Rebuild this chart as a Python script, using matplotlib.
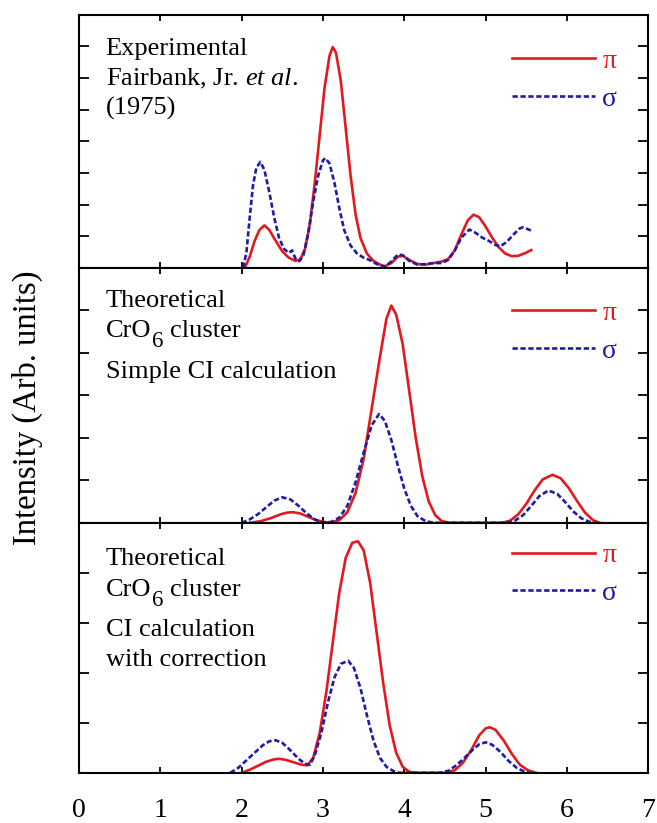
import matplotlib
matplotlib.use("Agg")
import matplotlib.pyplot as plt

plt.rcParams["font.family"] = ["Liberation Serif", "DejaVu Serif"]
plt.rcParams["mathtext.fontset"] = "custom"
plt.rcParams["mathtext.rm"] = "Liberation Serif"
plt.rcParams["mathtext.it"] = "Liberation Serif:italic"

RED = "#e3191e"
BLUE = "#1c1ca8"

# --- panel 1: experimental (Fairbank, Jr. et al. 1975) ---
exp_pi_x = [2.04, 2.10, 2.16, 2.22, 2.28, 2.34, 2.42, 2.50, 2.58, 2.66, 2.72, 2.78,
            2.84, 2.90, 2.96, 3.02, 3.08, 3.12, 3.16, 3.22, 3.28, 3.34, 3.40, 3.46,
            3.54, 3.62, 3.70, 3.76, 3.84, 3.92, 3.98, 4.06, 4.16, 4.26, 4.36, 4.46,
            4.54, 4.62, 4.70, 4.78, 4.85, 4.92, 5.00, 5.08, 5.16, 5.24, 5.32, 5.40,
            5.48, 5.56]
exp_pi_y = [0.0, 0.35, 0.85, 1.2, 1.34, 1.2, 0.85, 0.52, 0.32, 0.22, 0.26, 0.6,
            1.4, 2.7, 4.2, 5.7, 6.7, 6.98, 6.8, 5.9, 4.4, 2.9, 1.7, 0.95,
            0.45, 0.22, 0.1, 0.05, 0.15, 0.35, 0.38, 0.25, 0.12, 0.1, 0.15, 0.2,
            0.28, 0.55, 1.05, 1.5, 1.68, 1.6, 1.3, 0.95, 0.65, 0.45, 0.37, 0.38,
            0.46, 0.56]
exp_sig_x = [2.02, 2.06, 2.10, 2.14, 2.18, 2.23, 2.28, 2.34, 2.40, 2.46, 2.52, 2.58,
             2.62, 2.66, 2.71, 2.76, 2.82, 2.88, 2.94, 3.00, 3.03, 3.08, 3.14, 3.20,
             3.26, 3.34, 3.42, 3.50, 3.58, 3.66, 3.76, 3.84, 3.92, 3.98, 4.06, 4.16,
             4.26, 4.36, 4.46, 4.54, 4.62, 4.70, 4.80, 4.88, 4.96, 5.04, 5.12, 5.18,
             5.26, 5.34, 5.42, 5.46, 5.52, 5.57]
exp_sig_y = [0.0, 0.5, 1.6, 2.6, 3.15, 3.35, 3.1, 2.4, 1.6, 0.95, 0.6, 0.47,
             0.55, 0.3, 0.21, 0.4, 1.1, 2.1, 2.9, 3.4, 3.47, 3.3, 2.7, 1.9,
             1.2, 0.7, 0.45, 0.32, 0.24, 0.12, 0.03, 0.2, 0.42, 0.4, 0.22, 0.1,
             0.12, 0.15, 0.15, 0.25, 0.55, 0.95, 1.21, 1.1, 0.95, 0.85, 0.72, 0.68,
             0.82, 1.05, 1.25, 1.28, 1.22, 1.16]

# --- panel 2: simple CI calculation ---
sci_pi_x = [2.10, 2.24, 2.36, 2.48, 2.56, 2.63, 2.72, 2.82, 2.92, 3.02, 3.10, 3.20,
            3.30, 3.40, 3.50, 3.60, 3.70, 3.78, 3.84, 3.90, 3.98, 4.06, 4.14, 4.22,
            4.30, 4.38, 4.46, 4.56, 5.20, 5.30, 5.40, 5.50, 5.60, 5.70, 5.82, 5.92,
            6.02, 6.12, 6.22, 6.32, 6.40]
sci_pi_y = [0.0, 0.04, 0.11, 0.2, 0.24, 0.25, 0.22, 0.14, 0.06, 0.015, 0.01, 0.06,
            0.25, 0.7, 1.5, 2.7, 3.9, 4.8, 5.11, 4.9, 4.2, 3.1, 2.0, 1.1,
            0.5, 0.18, 0.04, 0.0, 0.0, 0.05, 0.2, 0.45, 0.76, 1.02, 1.13, 1.05,
            0.82, 0.52, 0.24, 0.06, 0.0]
sci_sig_x = [2.00, 2.10, 2.20, 2.30, 2.40, 2.50, 2.60, 2.70, 2.80, 2.90, 3.00, 3.10,
             3.20, 3.30, 3.40, 3.50, 3.60, 3.69, 3.76, 3.84, 3.92, 4.00, 4.08, 4.16,
             4.26, 4.36, 5.26, 5.36, 5.46, 5.56, 5.66, 5.77, 5.88, 5.98, 6.08, 6.18,
             6.28, 6.36]
sci_sig_y = [0.0, 0.08, 0.2, 0.36, 0.52, 0.6, 0.55, 0.4, 0.22, 0.08, 0.01, 0.02,
             0.12, 0.4, 0.95, 1.65, 2.3, 2.56, 2.4, 1.95, 1.35, 0.8, 0.4, 0.16,
             0.04, 0.0, 0.0, 0.05, 0.18, 0.4, 0.63, 0.76, 0.68, 0.48, 0.26, 0.1,
             0.02, 0.0]

# --- panel 3: CI calculation with correction ---
cor_pi_x = [2.00, 2.10, 2.20, 2.30, 2.40, 2.46, 2.54, 2.64, 2.74, 2.81, 2.88, 2.96,
            3.04, 3.12, 3.20, 3.28, 3.36, 3.43, 3.50, 3.58, 3.66, 3.74, 3.82, 3.90,
            3.98, 4.06, 4.14, 4.50, 4.62, 4.72, 4.82, 4.92, 5.00, 5.05, 5.12, 5.22,
            5.32, 5.42, 5.52, 5.62]
cor_pi_y = [0.0, 0.06, 0.14, 0.22, 0.27, 0.28, 0.26, 0.21, 0.16, 0.15, 0.3, 0.8,
            1.6, 2.6, 3.6, 4.3, 4.6, 4.63, 4.45, 3.8, 2.8, 1.8, 0.95, 0.4,
            0.12, 0.02, 0.0, 0.0, 0.05, 0.2, 0.45, 0.75, 0.89, 0.91, 0.86, 0.65,
            0.38, 0.16, 0.05, 0.0]
cor_sig_x = [1.86, 1.96, 2.06, 2.16, 2.26, 2.34, 2.42, 2.50, 2.60, 2.70, 2.78, 2.84,
             2.90, 2.98, 3.06, 3.14, 3.22, 3.31, 3.38, 3.46, 3.54, 3.62, 3.70, 3.78,
             3.86, 3.94, 4.44, 4.54, 4.64, 4.74, 4.84, 4.92, 5.00, 5.08, 5.18, 5.28,
             5.38, 5.48, 5.54]
cor_sig_y = [0.0, 0.1, 0.25, 0.4, 0.55, 0.63, 0.65, 0.6, 0.45, 0.28, 0.18, 0.16,
             0.35, 0.8, 1.4, 1.9, 2.18, 2.24, 2.1, 1.7, 1.15, 0.65, 0.3, 0.12,
             0.04, 0.0, 0.0, 0.04, 0.15, 0.3, 0.46, 0.57, 0.61, 0.56, 0.42, 0.24,
             0.1, 0.02, 0.0]

panel_notes = [
    ["Experimental", "Fairbank, Jr. $\\it{et\\ al.}$", "(1975)"],
    ["Theoretical", "CrO_6 cluster", "Simple CI calculation"],
    ["Theoretical", "CrO_6 cluster", "CI calculation", "with correction"],
]
# baseline of each note line, pixels below the top of its panel
note_baselines = [
    [40, 71, 100],
    [39, 69, 110],
    [42, 73, 113, 143],
]
panel_ymax = [8, 6, 5]
x_ticks = [0, 1, 2, 3, 4, 5, 6, 7]

panels = [
    (exp_pi_x, exp_pi_y, exp_sig_x, exp_sig_y),
    (sci_pi_x, sci_pi_y, sci_sig_x, sci_sig_y),
    (cor_pi_x, cor_pi_y, cor_sig_x, cor_sig_y),
]
legend_top = [0.866, 0.872, 0.920]

NOTE_SIZE = 19


def draw_note_line(ax, line, off):
    """Draw one note line; 'A_6 B' gets a large, deep subscript like the original."""
    if "_6" not in line:
        ax.annotate(line, xy=(0.047, 1), xycoords="axes fraction",
                    xytext=(0, -off), textcoords="offset pixels",
                    fontsize=NOTE_SIZE, va="baseline", ha="left")
        return
    head, tail = line.split("_6")
    first = ax.annotate(head, xy=(0.047, 1), xycoords="axes fraction",
                        xytext=(0, -off), textcoords="offset pixels",
                        fontsize=NOTE_SIZE, va="baseline", ha="left")
    sub = ax.annotate("6", xy=(1, 1), xycoords=(first, "axes fraction"),
                      xytext=(0.5, -off - 10), textcoords="offset pixels",
                      fontsize=16.5, va="baseline", ha="left")
    ax.annotate(tail.strip(), xy=(1, 1), xycoords=(sub, "axes fraction"),
                xytext=(7, -off), textcoords="offset pixels",
                fontsize=NOTE_SIZE, va="baseline", ha="left")


def main() -> None:
    fig, axes = plt.subplots(
        3, 1, sharex=True, figsize=(6.57, 8.23), dpi=100,
        gridspec_kw={"height_ratios": [253, 255, 250], "hspace": 0},
    )
    fig.subplots_adjust(left=0.120, right=0.987, bottom=0.061, top=0.982)

    for i, ax in enumerate(axes):
        px, py, sx, sy = panels[i]
        ax.plot(px, py, color=RED, lw=1.9, label="π")
        ax.plot(sx, sy, color=BLUE, lw=1.9, dashes=(2, 1), label="σ")

        ax.set_xlim(0, 7)
        ax.set_ylim(0, panel_ymax[i])
        ax.set_yticks(range(1, panel_ymax[i]))
        ax.set_xticks(x_ticks)
        ax.tick_params(axis="y", direction="in", length=7, width=1.3,
                       left=True, right=True, labelleft=False)
        ax.tick_params(axis="x", direction="in", length=4, width=1.3,
                       top=True, bottom=True, labelsize=20, pad=18)
        for sp in ax.spines.values():
            sp.set_linewidth(1.5)

        for line, off in zip(panel_notes[i], note_baselines[i]):
            draw_note_line(ax, line, off)

        ax.legend(loc="upper right", bbox_to_anchor=(0.945, legend_top[i]),
                  frameon=False, fontsize=20, handlelength=3.0,
                  handletextpad=0.25, labelspacing=0.45, borderpad=0,
                  borderaxespad=0, labelcolor="linecolor")

    fig.text(0.041, 0.504, "Intensity (Arb. units)", rotation=90,
             fontsize=23.5, va="center", ha="center")

    fig.savefig("out.png", dpi=100)
    plt.close(fig)


if __name__ == "__main__":
    main()
